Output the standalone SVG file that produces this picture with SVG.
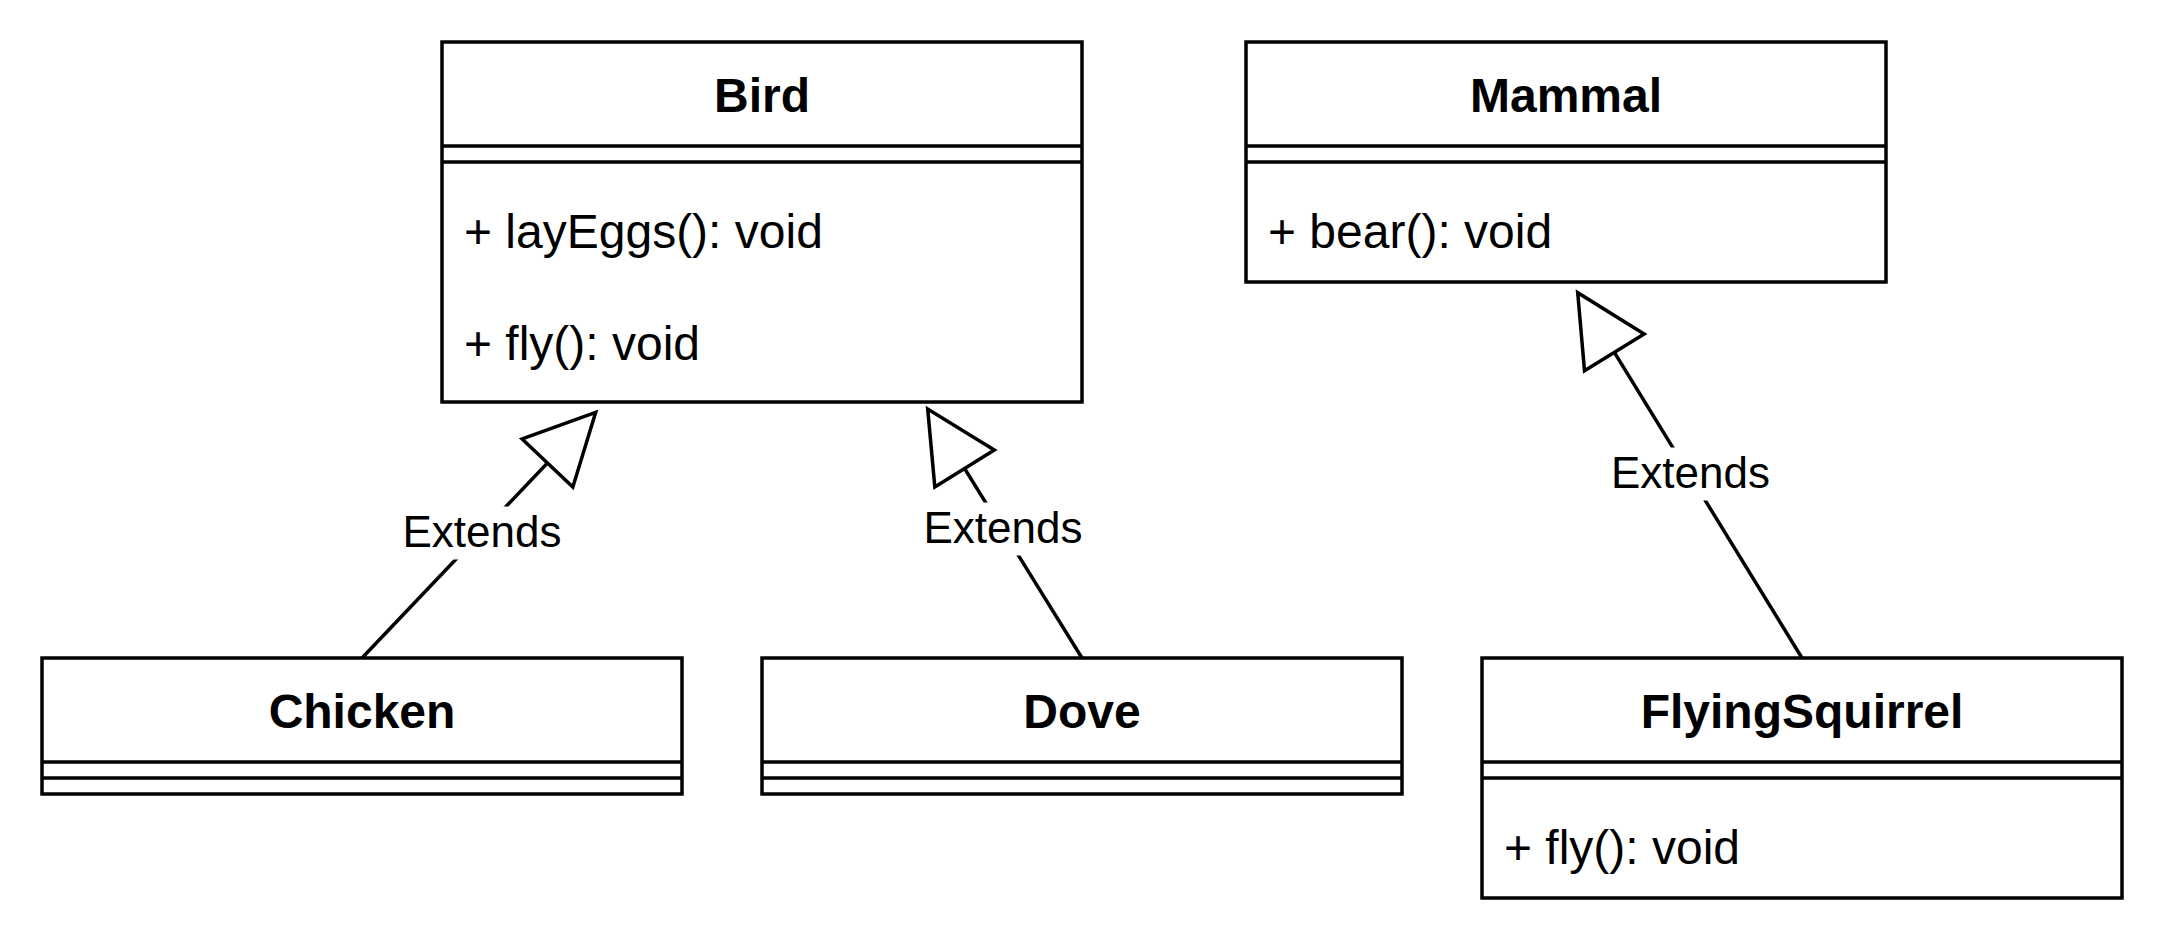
<svg xmlns="http://www.w3.org/2000/svg" width="2168" height="952" viewBox="0 0 2168 952">
<defs>
<style>
.box{fill:#ffffff;stroke:#000000;stroke-width:3.5}
.sep{stroke:#000000;stroke-width:3.5;fill:none}
.name{font-family:"Liberation Sans",Arial,Helvetica,sans-serif;font-size:48px;font-weight:bold;text-anchor:middle;fill:#000}
.member{font-family:"Liberation Sans",Arial,Helvetica,sans-serif;font-size:48px;fill:#000}
.edge{stroke:#000000;stroke-width:3.5;fill:none}
.lblbg{fill:#ffffff;stroke:none}
.lbl{font-family:"Liberation Sans",Arial,Helvetica,sans-serif;font-size:44px;text-anchor:middle;fill:#000}
</style>
<marker id="extends" markerUnits="userSpaceOnUse" markerWidth="90" markerHeight="90" viewBox="-80 -45 90 90" refX="0" refY="0" orient="auto" overflow="visible">
<path d="M0,0 L-70,-35 L-70,35 Z" fill="#ffffff" stroke="#000000" stroke-width="3.5" stroke-linejoin="miter"/>
</marker>
</defs>
<rect width="2168" height="952" fill="#ffffff"/>
<g id="connectors">
<g id="chicken-bird">
<path class="edge" d="M362,658 L595.7,412.3" marker-end="url(#extends)"/>
<rect class="lblbg" x="402" y="506.5" width="160" height="53"/>
<text class="lbl" x="482" y="547">Extends</text>
</g>
<g id="dove-bird">
<path class="edge" d="M1082,658 L927.7,409" marker-end="url(#extends)"/>
<rect class="lblbg" x="923" y="502.5" width="160" height="53"/>
<text class="lbl" x="1003" y="543">Extends</text>
</g>
<g id="flyingsquirrel-mammal">
<path class="edge" d="M1802,658 L1577.7,292.7" marker-end="url(#extends)"/>
<rect class="lblbg" x="1610.5" y="447.5" width="160" height="53"/>
<text class="lbl" x="1690.5" y="488">Extends</text>
</g>
</g>
<g id="Bird">
<rect class="box" x="442" y="42" width="640" height="360"/>
<line class="sep" x1="442" y1="146" x2="1082" y2="146"/>
<line class="sep" x1="442" y1="162" x2="1082" y2="162"/>
<text class="name" x="762" y="112">Bird</text>
<text class="member" x="464" y="248">+ layEggs(): void</text>
<text class="member" x="464" y="360">+ fly(): void</text>
</g>
<g id="Mammal">
<rect class="box" x="1246" y="42" width="640" height="240"/>
<line class="sep" x1="1246" y1="146" x2="1886" y2="146"/>
<line class="sep" x1="1246" y1="162" x2="1886" y2="162"/>
<text class="name" x="1566" y="112">Mammal</text>
<text class="member" x="1268" y="248">+ bear(): void</text>
</g>
<g id="Chicken">
<rect class="box" x="42" y="658" width="640" height="136"/>
<line class="sep" x1="42" y1="762" x2="682" y2="762"/>
<line class="sep" x1="42" y1="778" x2="682" y2="778"/>
<text class="name" x="362" y="728">Chicken</text>
</g>
<g id="Dove">
<rect class="box" x="762" y="658" width="640" height="136"/>
<line class="sep" x1="762" y1="762" x2="1402" y2="762"/>
<line class="sep" x1="762" y1="778" x2="1402" y2="778"/>
<text class="name" x="1082" y="728">Dove</text>
</g>
<g id="FlyingSquirrel">
<rect class="box" x="1482" y="658" width="640" height="240"/>
<line class="sep" x1="1482" y1="762" x2="2122" y2="762"/>
<line class="sep" x1="1482" y1="778" x2="2122" y2="778"/>
<text class="name" x="1802" y="728">FlyingSquirrel</text>
<text class="member" x="1504" y="864">+ fly(): void</text>
</g>
</svg>
